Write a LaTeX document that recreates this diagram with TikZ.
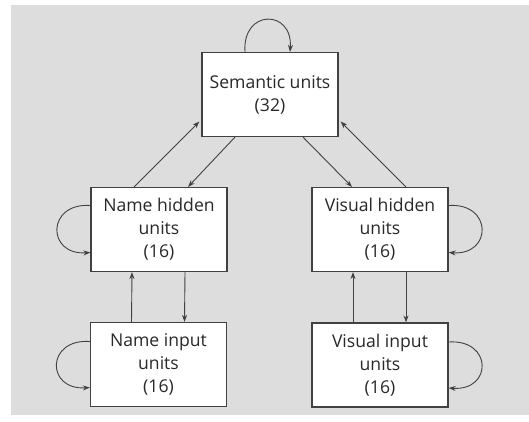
\documentclass[tikz,border=0pt]{standalone}
\usepackage{fontspec}
\setmainfont{Open Sans}
\usetikzlibrary{arrows.meta}
\definecolor{bgpanel}{RGB}{221,221,221}
\definecolor{linec}{RGB}{65,65,65}
\definecolor{textc}{RGB}{40,40,40}
\tikzset{
  unitbox/.style={draw=linec, line width=1.2pt, fill=white, minimum width=136pt, minimum height=84pt,
    align=center, text=textc, font=\fontsize{17.6}{23}\selectfont, inner sep=0pt},
  conn/.style={draw=linec, line width=0.9pt, -{Stealth[length=7pt,width=5pt]}}
}
\begin{document}
\begin{tikzpicture}[x=1pt,y=-1pt]
\useasboundingbox (0,0) rectangle (529,422);
\fill[bgpanel] (11,5) rectangle (529,415);
\node[unitbox] (sem) at (270,94.5) {Semantic units\\(32)};
\node[unitbox] (nh) at (159,229.5) {Name hidden\\units\\(16)};
\node[unitbox] (vh) at (380,229.5) {Visual hidden\\units\\(16)};
\node[unitbox] (ni) at (158.5,364.5) {Name input\\units\\(16)};
\node[unitbox] (vi) at (380,365) {Visual input\\units\\(16)};
% semantic <-> hidden
\draw[conn] ([xshift=-25pt]nh.north) -- ([xshift=-2pt,yshift=-27pt]sem.west);
\draw[conn] ([xshift=-35pt]sem.south) -- ([xshift=29pt]nh.north);
\draw[conn] ([xshift=33pt]sem.south) -- ([xshift=-28pt]vh.north);
\draw[conn] ([xshift=26pt]vh.north) -- ([xshift=2pt,yshift=-27pt]sem.east);
% input <-> hidden
\draw[conn] ([xshift=-27pt]ni.north) -- ([xshift=-27pt]nh.south);
\draw[conn] ([xshift=26pt]nh.south) -- ([xshift=26pt]ni.north);
\draw[conn] ([xshift=-27pt]vi.north) -- ([xshift=-27pt]vh.south);
\draw[conn] ([xshift=26pt]vh.south) -- ([xshift=26pt]vi.north);
% self loops
\draw[conn] ([xshift=-25pt]sem.north) .. controls +(-3,-43) and +(3,-43) .. ([xshift=20pt]sem.north);
\draw[conn] ([yshift=24pt]nh.west) .. controls +(-44,-3) and +(-44,3) .. ([yshift=-23pt]nh.west);
\draw[conn] ([yshift=23pt]ni.west) .. controls +(-44,-3) and +(-44,3) .. ([yshift=-23pt]ni.west);
\draw[conn] ([yshift=24pt]vh.east) .. controls +(44,-3) and +(44,3) .. ([yshift=-23pt]vh.east);
\draw[conn] ([yshift=23pt]vi.east) .. controls +(44,-3) and +(44,3) .. ([yshift=-23pt]vi.east);
\end{tikzpicture}
\end{document}
